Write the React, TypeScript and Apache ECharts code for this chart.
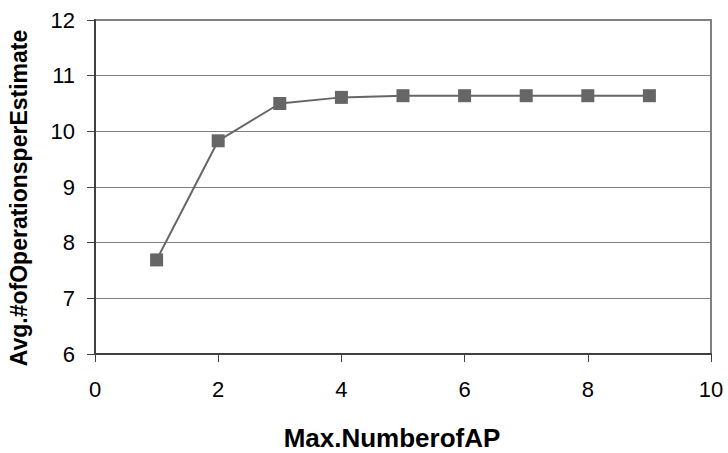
import React, { useEffect, useRef } from "react";
import * as echarts from "echarts";

const apCounts = [1, 2, 3, 4, 5, 6, 7, 8, 9];
const avgOperations = [7.69, 9.83, 10.5, 10.61, 10.64, 10.64, 10.64, 10.64, 10.64];
const xTitle = "Max.NumberofAP";
const yTitle = "Avg.#ofOperationsperEstimate";

const FONT = '"Liberation Sans", Arial, sans-serif';

export default function App() {
  const ref = useRef<HTMLDivElement>(null);
  useEffect(() => {
    if (!ref.current) return;
    const chart = echarts.init(ref.current, undefined, { renderer: "svg" });
    chart.setOption({
      animation: false,
      backgroundColor: "#ffffff",
      grid: {
        left: 95,
        right: 17,
        top: 20,
        bottom: 99,
        show: true,
        borderColor: "#808080",
        borderWidth: 2,
        backgroundColor: "transparent",
      },
      xAxis: {
        type: "value",
        min: 0,
        max: 10,
        interval: 2,
        axisLine: { show: true, lineStyle: { color: "#404040", width: 2 } },
        axisTick: { show: true, inside: false, length: 8, lineStyle: { color: "#404040", width: 1 } },
        splitLine: { show: false },
        axisLabel: { color: "#000", fontSize: 22, fontFamily: FONT, margin: 24 },
      },
      yAxis: {
        type: "value",
        min: 6,
        max: 12,
        interval: 1,
        axisLine: { show: true, lineStyle: { color: "#404040", width: 2 } },
        axisTick: { show: true, inside: false, length: 8, lineStyle: { color: "#404040", width: 1 } },
        splitLine: { show: true, lineStyle: { color: "#808080", width: 1 } },
        axisLabel: { color: "#000", fontSize: 22, fontFamily: FONT, margin: 20 },
      },
      graphic: [
        {
          type: "text",
          x: 392,
          y: 438,
          style: {
            text: xTitle,
            fontSize: 26,
            fontWeight: "bold",
            fontFamily: FONT,
            fill: "#000",
            align: "center",
            verticalAlign: "middle",
          },
        },
        {
          type: "text",
          x: 19,
          y: 198,
          rotation: Math.PI / 2,
          style: {
            text: yTitle,
            fontSize: 23,
            fontWeight: "bold",
            fontFamily: FONT,
            fill: "#000",
            align: "center",
            verticalAlign: "middle",
          },
        },
      ],
      series: [
        {
          type: "line",
          data: apCounts.map((x, i) => [x, avgOperations[i]]),
          symbol: "rect",
          symbolSize: 13,
          itemStyle: { color: "#666666" },
          lineStyle: { color: "#666666", width: 2 },
        },
      ],
    });
    return () => chart.dispose();
  }, []);
  return <div ref={ref} style={{ width: 728, height: 453, position: "absolute", left: 0, top: 0 }} />;
}
